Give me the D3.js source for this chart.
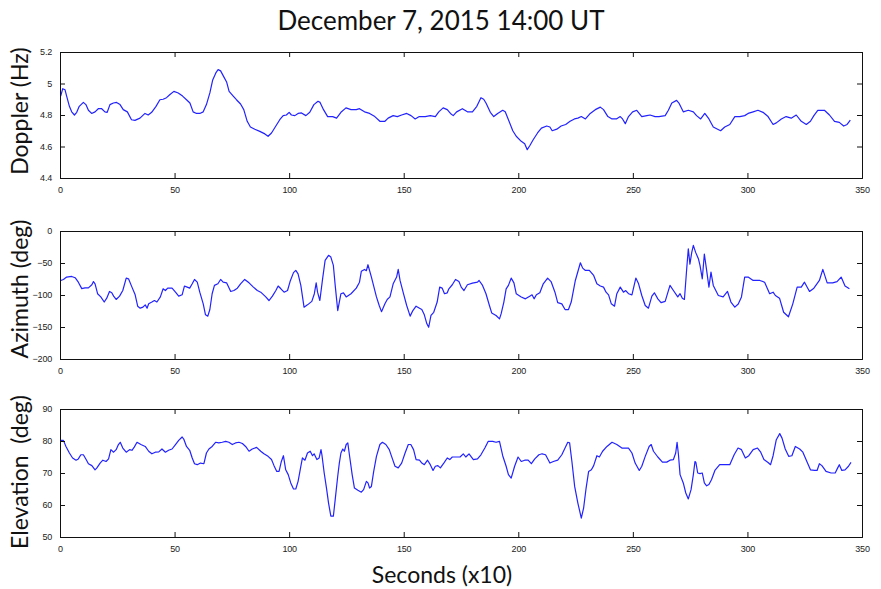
<!DOCTYPE html>
<html>
<head>
<meta charset="utf-8">
<script src="https://cdn.jsdelivr.net/npm/d3@7"></script>
<style>
  body { margin: 0; background: #fff; }
  svg { display: block; }
</style>
</head>
<body>
<div id="chartArea"></div>
<script>
// time axis (x10 seconds)
const xTicks = [0, 50, 100, 150, 200, 250, 300, 350];

// Doppler (Hz)
const dopplerT = [0.3, 1.2, 2.2, 2.9, 4.1, 5.1, 6.3, 7.3, 8.4, 10.2, 11.3, 12.4, 13.8, 15.3, 16.7, 18.2, 19.6, 20.6, 21.8, 23.3, 24.7, 26.2, 27.6, 29.4, 31.2, 32.7, 34.9, 37.1, 38.5, 40, 41.9, 43.6, 45, 46.5, 48, 49.7, 51.6, 53.5, 55.2, 56.7, 58.1, 59.6, 61, 62.5, 63.9, 65.4, 66.6, 68, 69, 70.1, 71.2, 72.7, 73.8, 75.6, 77, 78.8, 80.2, 81.7, 83.1, 85, 87.2, 89.4, 90.8, 92.3, 94.2, 95.9, 97.4, 98.8, 100, 101, 102.5, 103.9, 105.4, 107.3, 109, 110.8, 112.6, 113.5, 115, 116.8, 119, 120.7, 122.6, 124.8, 127, 129.3, 130.7, 132.9, 135.1, 137.4, 139.6, 141.8, 143.2, 145.4, 147.2, 149.1, 151.3, 153.2, 155, 156.8, 159.4, 161.6, 163.8, 165.3, 167.2, 169, 170.4, 171.6, 173.1, 175.6, 177.8, 180, 181.9, 183.7, 184.9, 185.9, 187.8, 189.3, 191, 193.2, 194.3, 195.7, 197.6, 199.1, 201.3, 202.8, 203.9, 205, 206.5, 208.4, 210.1, 212.4, 213.8, 214.8, 216.8, 218.7, 220.7, 222.6, 224.5, 226, 227.5, 229.3, 231.4, 233.6, 235.8, 237.2, 239.1, 240.9, 242.8, 244.5, 245.5, 246.7, 248.1, 249.9, 251.7, 253.9, 256.1, 257.5, 259.7, 261.4, 264.1, 265.5, 267, 269.1, 270.1, 272, 274.2, 276.4, 277.8, 279.6, 281.4, 283.2, 285.1, 287, 288.3, 290.1, 292.3, 294.5, 296.7, 298.8, 300.3, 302.5, 304.6, 306.8, 309, 311.2, 312.6, 314.8, 316.9, 319.1, 321.3, 323.5, 325.7, 327.5, 329, 330.7, 333.6, 335.8, 338, 340.1, 342, 343.5, 344.9];
const dopplerHz = [4.92, 4.967, 4.96, 4.92, 4.855, 4.82, 4.80, 4.817, 4.855, 4.88, 4.866, 4.83, 4.81, 4.82, 4.84, 4.84, 4.82, 4.817, 4.866, 4.876, 4.88, 4.866, 4.834, 4.82, 4.77, 4.766, 4.78, 4.81, 4.80, 4.817, 4.855, 4.897, 4.90, 4.91, 4.93, 4.95, 4.94, 4.92, 4.897, 4.876, 4.82, 4.81, 4.81, 4.82, 4.866, 4.94, 5.02, 5.067, 5.088, 5.08, 5.05, 5.01, 4.95, 4.92, 4.897, 4.87, 4.834, 4.76, 4.724, 4.71, 4.696, 4.68, 4.665, 4.686, 4.73, 4.77, 4.796, 4.80, 4.817, 4.80, 4.796, 4.81, 4.813, 4.796, 4.817, 4.866, 4.887, 4.88, 4.834, 4.79, 4.79, 4.78, 4.817, 4.845, 4.834, 4.834, 4.84, 4.82, 4.81, 4.79, 4.76, 4.76, 4.78, 4.796, 4.79, 4.80, 4.81, 4.796, 4.775, 4.79, 4.79, 4.796, 4.79, 4.82, 4.845, 4.834, 4.81, 4.796, 4.82, 4.84, 4.82, 4.82, 4.855, 4.91, 4.90, 4.876, 4.817, 4.79, 4.81, 4.83, 4.82, 4.77, 4.70, 4.665, 4.633, 4.618, 4.58, 4.605, 4.643, 4.686, 4.717, 4.73, 4.724, 4.70, 4.71, 4.73, 4.74, 4.76, 4.775, 4.78, 4.79, 4.775, 4.81, 4.834, 4.85, 4.834, 4.79, 4.775, 4.775, 4.79, 4.775, 4.745, 4.79, 4.82, 4.83, 4.79, 4.796, 4.80, 4.79, 4.79, 4.796, 4.83, 4.876, 4.893, 4.876, 4.82, 4.83, 4.82, 4.796, 4.775, 4.81, 4.775, 4.724, 4.71, 4.70, 4.724, 4.74, 4.79, 4.79, 4.796, 4.81, 4.82, 4.83, 4.817, 4.79, 4.74, 4.75, 4.775, 4.79, 4.78, 4.80, 4.76, 4.74, 4.76, 4.796, 4.83, 4.83, 4.80, 4.76, 4.753, 4.73, 4.74, 4.767];
const dopplerTicks = [4.4, 4.6, 4.8, 5, 5.2];

// Azimuth (deg)
const azimuthT = [0.3, 1.5, 2.9, 5.1, 6.6, 8, 9.5, 10.9, 12.4, 13.9, 14.6, 15.3, 16.4, 17.8, 19.3, 20.4, 21.6, 22.6, 23.4, 24.5, 26, 27.4, 28.9, 29.9, 31.4, 32.8, 33.9, 35, 36.2, 37.2, 38, 38.7, 40.1, 41.2, 42.3, 43.8, 45, 46, 47, 48.9, 50.4, 51.8, 53.3, 54.3, 55.5, 56.6, 57.7, 58.7, 59.9, 61, 62.5, 63.5, 64.5, 65.4, 66.4, 67.4, 68.9, 70.1, 71.2, 72.7, 74.5, 75.9, 77.4, 78.8, 80.6, 82.5, 84.4, 86.1, 87.6, 89.8, 91.2, 92.7, 94.2, 95.2, 96.4, 97.8, 99.3, 100.4, 101.9, 102.9, 103.9, 105.1, 106.5, 108, 109.9, 111, 111.8, 112.4, 113.4, 114.6, 115.7, 117.2, 118.2, 119.3, 120.1, 121.2, 121.9, 122.6, 123.7, 124.9, 127, 129.3, 130.7, 131.5, 132.9, 133.7, 134.4, 135.9, 138.1, 139.3, 140.3, 141.8, 142.8, 144, 145.4, 146.9, 147.6, 148.4, 149.9, 151.3, 152.8, 154, 155.4, 156.9, 157.9, 159, 160.1, 160.9, 161.9, 163.1, 164.6, 165.7, 166.8, 167.8, 169, 169.7, 171.2, 172.6, 174.1, 175.1, 176.3, 177.8, 180, 182.2, 182.9, 184.4, 185.9, 187.4, 188.4, 190.3, 191.8, 192.5, 193.7, 194.7, 195.7, 196.9, 198.1, 199.1, 201.3, 203.1, 205, 206, 206.9, 207.9, 209.4, 210.9, 212.8, 214.3, 216, 217.2, 219, 220.4, 221.9, 223.1, 224.9, 227.1, 228.1, 229.3, 231, 232.9, 234.3, 235.8, 237.2, 238.3, 239.4, 240.6, 242, 243, 244.5, 245.9, 246.9, 248.1, 249.6, 251.3, 252.5, 253.9, 255.4, 256.8, 258.3, 259.4, 260.9, 262.3, 264.1, 266.2, 267.7, 269.6, 270.6, 271.6, 272.5, 273.5, 274.2, 274.9, 275.7, 276.4, 277.4, 278.6, 279.3, 280.3, 281.2, 282.2, 283.2, 284.1, 285.1, 287.3, 289.4, 291.3, 292.8, 294.5, 296, 297.4, 298.8, 300.3, 302.5, 305.4, 307.5, 309.7, 311.2, 312.2, 314, 315.8, 317.9, 319.8, 321.7, 323.5, 324.9, 327.1, 329, 331.4, 332.9, 334.8, 337.2, 339.1, 340.9, 342.6, 344.5];
const azimuthDeg = [-77.3, -75.7, -72, -71, -73, -80, -90, -89, -88.8, -84, -79, -82.5, -98, -103, -111, -105, -94.5, -96.6, -101.8, -107, -101.8, -93, -73.6, -74.7, -87.7, -99.7, -117.5, -120.6, -119, -115.4, -120.6, -113.8, -111, -108.6, -111, -103, -90.3, -93, -89.3, -89.3, -95.6, -101.8, -99.7, -86, -87.7, -89.3, -82.5, -75.7, -79.9, -95.6, -113.8, -131, -133, -122.7, -98, -85, -82.5, -75.7, -79.9, -81, -94.5, -93, -89.3, -82.5, -75.7, -81, -87.7, -93, -95.6, -103, -108.6, -101.8, -93, -86, -90.3, -95.6, -93, -79, -65, -61.6, -67, -85, -119, -115.4, -110, -98, -81, -95.6, -108.6, -74.7, -46, -38, -40.7, -53.8, -85, -124.3, -111, -98, -96.6, -103, -98, -89.3, -80, -63, -60, -62, -52.7, -72, -103, -116.4, -126, -113.8, -107, -103, -82.5, -72, -60, -77.3, -98, -116.4, -133, -124.3, -117.5, -120.6, -122.7, -131, -145, -150.4, -132, -127, -111, -87.7, -89.3, -98, -96.6, -90.3, -84, -75.7, -79, -87.7, -93, -84, -81.5, -80, -77.3, -85, -98, -116.4, -128, -132, -137.3, -129.5, -111, -90.3, -85, -73.6, -81, -98, -103, -106, -101.8, -99.7, -106, -99.7, -96.6, -82.5, -73.6, -79, -95.6, -112, -113.8, -122.7, -122.7, -111, -77.3, -49.6, -58, -61.6, -61.6, -69.5, -82.5, -86, -87.7, -95.6, -99.7, -113.8, -117.5, -98, -87.7, -95.6, -93, -98, -99.7, -73.6, -82.5, -100.8, -116.4, -120.6, -101.8, -96.6, -106, -112, -110, -85, -93, -103, -98, -105, -107, -59, -27.7, -51.7, -33.4, -22.5, -33.4, -43.3, -53.8, -74.7, -36, -61.6, -87.7, -64.2, -85, -100.8, -103, -94.5, -111, -119, -114, -103, -72, -72, -77.3, -77.3, -80, -98, -95.6, -100.8, -105, -127, -134, -113.8, -87.7, -87.7, -80, -94.5, -89.3, -77.3, -60, -81, -81, -79, -72, -86, -90.3];
const azimuthTicks = [-200, -150, -100, -50, 0];

// Elevation (deg)
const elevationT = [0, 1.5, 2.6, 4.1, 5.5, 7, 8, 9.1, 10.2, 11.4, 12.4, 13.9, 15.3, 16.1, 17.5, 18.7, 20.1, 21.2, 22.2, 23.4, 24.5, 25.5, 26.3, 27.4, 28.9, 30.4, 31.4, 32.4, 33.6, 35.3, 37.2, 38.7, 40.1, 41.6, 43.1, 44.5, 46, 47.4, 48.9, 50.4, 51.8, 53.3, 54, 55.2, 56.6, 57.7, 58.7, 59.9, 61.3, 62.8, 63.9, 65, 66.4, 67.9, 69.3, 70.8, 72.3, 73.7, 75.2, 76.6, 78.1, 79.6, 81, 82.5, 83.9, 85.8, 87.6, 89, 90.8, 92.3, 93.4, 94.6, 95.6, 96.6, 97.5, 98.5, 99.6, 100.7, 101.9, 102.9, 103.9, 105.1, 105.8, 106.9, 108, 109.2, 110.2, 110.9, 112.1, 113.1, 113.9, 114.3, 115.3, 116.3, 117.2, 118.2, 119.3, 120.1, 121.2, 121.9, 122.6, 123.4, 124.1, 124.9, 125.6, 126.3, 127.5, 128.5, 130, 131.5, 132.5, 133.7, 134.4, 135.1, 135.9, 136.9, 138.1, 139.6, 140.7, 142.2, 143.7, 144.7, 146.2, 147.6, 149.1, 150.6, 152, 153.1, 154.3, 155.4, 156.9, 157.9, 159, 160.4, 161.6, 162.8, 163.8, 164.9, 166, 167.5, 169, 170.1, 171.2, 172.6, 174.6, 176, 177.1, 178.5, 180.4, 182.2, 183.7, 185.4, 186.9, 188.8, 190.3, 191.8, 193.2, 194.7, 195.7, 196.9, 198.4, 199.9, 201.3, 202.8, 204.3, 205.7, 207.2, 209, 210.4, 211.9, 213.8, 215.3, 217.2, 219, 220.4, 221.6, 222.4, 223.4, 224.6, 226, 227.5, 228.5, 229.6, 230.7, 231.9, 232.9, 234.3, 235.4, 236.8, 238.7, 240.9, 243, 245.2, 248.1, 249.6, 251, 252.8, 253.9, 255.4, 257.1, 258, 259, 260.9, 262.9, 264.8, 266.2, 267.7, 268.7, 269.3, 269.9, 270.6, 272, 273.1, 274.2, 275.4, 276.4, 277.1, 277.5, 278.3, 279.3, 280.3, 281.2, 282.2, 283.2, 284.3, 285.8, 287.9, 290.1, 292.3, 294.2, 295.9, 297.4, 299.1, 300.6, 302.5, 304.4, 305.8, 307.2, 309, 310.1, 311.2, 312.6, 314.1, 315.1, 316.5, 318, 319.4, 320.9, 322.8, 324.2, 325.7, 327.5, 329.3, 330.4, 331.4, 332.5, 334.3, 336.5, 338.3, 339.4, 340.1, 341.2, 342.6, 344.1, 345.2];
const elevationDeg = [80.2, 80.2, 78.3, 76.25, 74.7, 74, 74.4, 75.7, 75.7, 74.2, 72.9, 72.3, 71, 71.6, 73.1, 74, 73.6, 74.4, 77.3, 76.5, 77.3, 78.9, 79.6, 77.8, 76.5, 77.3, 77.1, 78.1, 79.6, 78.9, 78.3, 76.8, 76, 76.5, 76.6, 77.5, 76.5, 77.1, 77.5, 78.9, 80.2, 81.25, 80.6, 78.3, 77.1, 74.7, 72.9, 72.6, 73.1, 72.9, 76.25, 77.5, 78.3, 79.6, 79.4, 79.6, 79.9, 79.6, 78.9, 79.4, 79.6, 79.2, 78.3, 76.8, 77.5, 78, 76.8, 76, 75.2, 74.2, 72.3, 70.5, 70.5, 73.6, 75.4, 71, 69.5, 66.9, 65, 65, 67.4, 72.1, 74.7, 74, 76.25, 76.8, 75.4, 76, 74.2, 74.7, 77.3, 75.7, 70, 65.3, 60.6, 56.5, 56.5, 61.7, 69, 73.1, 76.25, 77.5, 76.8, 78.9, 79.4, 75.7, 69.5, 65.3, 64.6, 64, 64.8, 67.4, 66.9, 65.3, 65.8, 70.5, 75.2, 78.9, 79.6, 78.9, 77.3, 75.2, 72.1, 71.6, 73.1, 76.25, 78.9, 78.9, 77.3, 74.2, 74, 73.1, 72.6, 74, 72.6, 70.8, 72.1, 72.3, 71.6, 73.1, 74.7, 74.2, 75, 75, 75, 76, 75, 76, 74.2, 74.4, 75.7, 77.8, 79.9, 79.9, 79.6, 79.9, 75.4, 72.1, 69.5, 68.4, 72.1, 75, 73.6, 74, 74, 72.9, 74.4, 75.7, 76, 75.7, 73.1, 73.6, 74, 75.7, 77.8, 79.6, 79.4, 73.6, 65.8, 60.6, 55.9, 59, 65.3, 70.5, 71, 72.3, 75.4, 75, 76.8, 78.3, 79.6, 78.9, 77.8, 77.8, 76.25, 73.1, 70.8, 72.1, 75.2, 78.3, 78.9, 76.8, 75, 73.4, 73.4, 74, 74.2, 76.25, 79.6, 75.7, 69.5, 66.9, 63.75, 61.9, 64.8, 69.5, 73.6, 73.3, 70, 69.8, 70, 66.9, 66, 66.4, 67.9, 70.8, 72.6, 72.6, 72.6, 75.7, 77.8, 77.3, 74.7, 75.4, 77.3, 77.8, 76.5, 74.2, 73.3, 72.6, 75.4, 80.4, 82.3, 80.9, 77.5, 75.2, 75.4, 78.3, 77.5, 76.5, 74, 71, 70.8, 70.8, 72.9, 72.3, 70.5, 70, 70, 71.6, 72.6, 70.8, 71, 72.1, 73.3];
const elevationTicks = [50, 60, 70, 80, 90];

const panels = [
  { t: dopplerT, v: dopplerHz, ticks: dopplerTicks, label: 'Doppler (Hz)', top: 52, bottom: 178, labelY: 111 },
  { t: azimuthT, v: azimuthDeg, ticks: azimuthTicks, label: 'Azimuth (deg)', top: 231, bottom: 359, labelY: 289 },
  { t: elevationT, v: elevationDeg, ticks: elevationTicks, label: 'Elevation  (deg)', top: 409, bottom: 537, labelY: 472 }
];

const width = 881, height = 589;
const left = 60, right = 862;
const tickLen = 5;

const svg = d3.select('#chartArea')
  .append('svg')
  .attr('width', width)
  .attr('height', height);

const x = d3.scaleLinear().domain([0, 350]).range([left, right]);

// tick text: plain numbers with a real minus sign
const fmt = d => (d < 0 ? '\u2212' + Math.abs(d) : String(d));

// title
svg.append('text')
  .attr('x', 441)
  .attr('y', 30)
  .attr('text-anchor', 'middle')
  .style('font-family', 'Lato, "Open Sans", sans-serif')
  .style('font-size', '26px')
  .style('fill', '#111')
  .text('December 7, 2015 14:00 UT');

panels.forEach(p => {
  const y = d3.scaleLinear()
    .domain(d3.extent(p.ticks))
    .range([p.bottom, p.top]);

  const g = svg.append('g');

  // line
  const line = d3.line()
    .x((d, i) => x(p.t[i]))
    .y(d => y(d));

  g.append('path')
    .datum(p.v)
    .attr('d', line)
    .attr('fill', 'none')
    .attr('stroke', '#2222ff')
    .attr('stroke-width', 1.2)
    .attr('stroke-linejoin', 'round');

  // axes with inward ticks on all four sides
  const fontStyle = s => s.selectAll('text')
    .style('font-family', '"Liberation Sans", Arial, sans-serif')
    .style('font-size', '9px')
    .style('letter-spacing', '-0.2px')
    .style('fill', '#222');

  g.append('g')
    .attr('transform', `translate(0,${p.bottom})`)
    .call(d3.axisBottom(x).tickValues(xTicks).tickSize(-tickLen).tickPadding(9).tickFormat(fmt))
    .call(fontStyle);

  g.append('g')
    .attr('transform', `translate(0,${p.top})`)
    .call(d3.axisTop(x).tickValues(xTicks).tickSize(-tickLen).tickFormat(''));

  g.append('g')
    .attr('transform', `translate(${left},0)`)
    .call(d3.axisLeft(y).tickValues(p.ticks).tickSize(-tickLen).tickPadding(8).tickFormat(fmt))
    .call(fontStyle);

  g.append('g')
    .attr('transform', `translate(${right},0)`)
    .call(d3.axisRight(y).tickValues(p.ticks).tickSize(-tickLen).tickFormat(''));

  g.selectAll('.domain').attr('stroke', '#111');
  g.selectAll('.tick line').attr('stroke', '#111');

  // y label
  svg.append('text')
    .attr('transform', `translate(28,${p.labelY}) rotate(-90)`)
    .attr('text-anchor', 'middle')
    .style('font-family', 'Lato, "Open Sans", sans-serif')
    .style('font-size', '23px')
    .style('white-space', 'pre')
    .style('fill', '#111')
    .text(p.label);
});

// x label
svg.append('text')
  .attr('x', 442)
  .attr('y', 583)
  .attr('text-anchor', 'middle')
  .style('font-family', 'Lato, "Open Sans", sans-serif')
  .style('font-size', '23px')
  .style('fill', '#111')
  .text('Seconds (x10)');
</script>
</body>
</html>
